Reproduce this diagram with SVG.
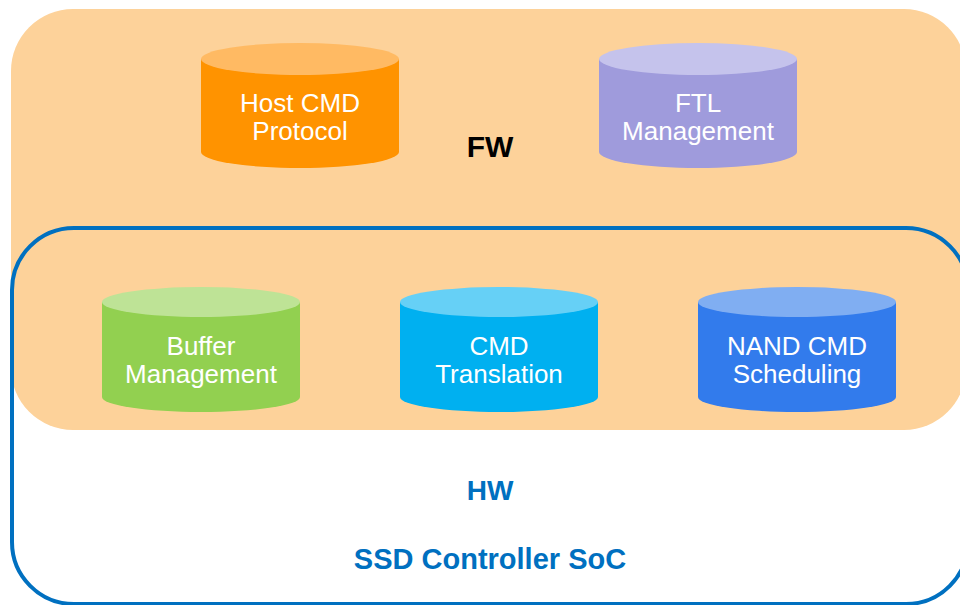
<svg xmlns="http://www.w3.org/2000/svg" width="960" height="605" viewBox="0 0 960 605">
<style>
.lbl{font-family:"Liberation Sans",Arial,sans-serif;font-size:26px;fill:#ffffff;text-anchor:middle}
.big{font-family:"Liberation Sans",Arial,sans-serif;font-weight:bold;text-anchor:middle}
</style>
<rect width="960" height="605" fill="#ffffff"/>
<g id="fw">
<rect x="11" y="9" width="955" height="421" rx="62" ry="62" fill="#FDD29A"/>
<text class="big" x="490" y="157" font-size="30" fill="#000000">FW</text>
</g>
<g id="hw">
<rect x="12" y="228" width="956" height="376" rx="62" ry="62" fill="none" stroke="#0070C0" stroke-width="4"/>
<text class="big" x="490" y="500" font-size="28" fill="#0070C0">HW</text>
<text class="big" x="490" y="569" font-size="29" fill="#0070C0">SSD Controller SoC</text>
</g>
<g id="host">
<path d="M201,59 L201,152 A99,16 0 0 0 399,152 L399,59 Z" fill="#FF9300"/>
<ellipse cx="300" cy="59" rx="99" ry="16" fill="#FFBA63"/>
<text class="lbl" x="300" y="112">Host CMD</text>
<text class="lbl" x="300" y="140">Protocol</text>
</g>
<g id="ftl">
<path d="M599,59 L599,152 A99,16 0 0 0 797,152 L797,59 Z" fill="#9F9BDC"/>
<ellipse cx="698" cy="59" rx="99" ry="16" fill="#C5C3EC"/>
<text class="lbl" x="698" y="112">FTL</text>
<text class="lbl" x="698" y="140">Management</text>
</g>
<g id="buffer">
<path d="M102,302 L102,397 A99,15 0 0 0 300,397 L300,302 Z" fill="#92D050"/>
<ellipse cx="201" cy="302" rx="99" ry="15" fill="#BEE396"/>
<text class="lbl" x="201" y="355">Buffer</text>
<text class="lbl" x="201" y="383">Management</text>
</g>
<g id="cmdtrans">
<path d="M400,302 L400,397 A99,15 0 0 0 598,397 L598,302 Z" fill="#00B0F0"/>
<ellipse cx="499" cy="302" rx="99" ry="15" fill="#66D0F6"/>
<text class="lbl" x="499" y="355">CMD</text>
<text class="lbl" x="499" y="383">Translation</text>
</g>
<g id="nand">
<path d="M698,302 L698,397 A99,15 0 0 0 896,397 L896,302 Z" fill="#327BEC"/>
<ellipse cx="797" cy="302" rx="99" ry="15" fill="#80AEF2"/>
<text class="lbl" x="797" y="355">NAND CMD</text>
<text class="lbl" x="797" y="383">Scheduling</text>
</g>
<g id="connectors"></g>
</svg>
